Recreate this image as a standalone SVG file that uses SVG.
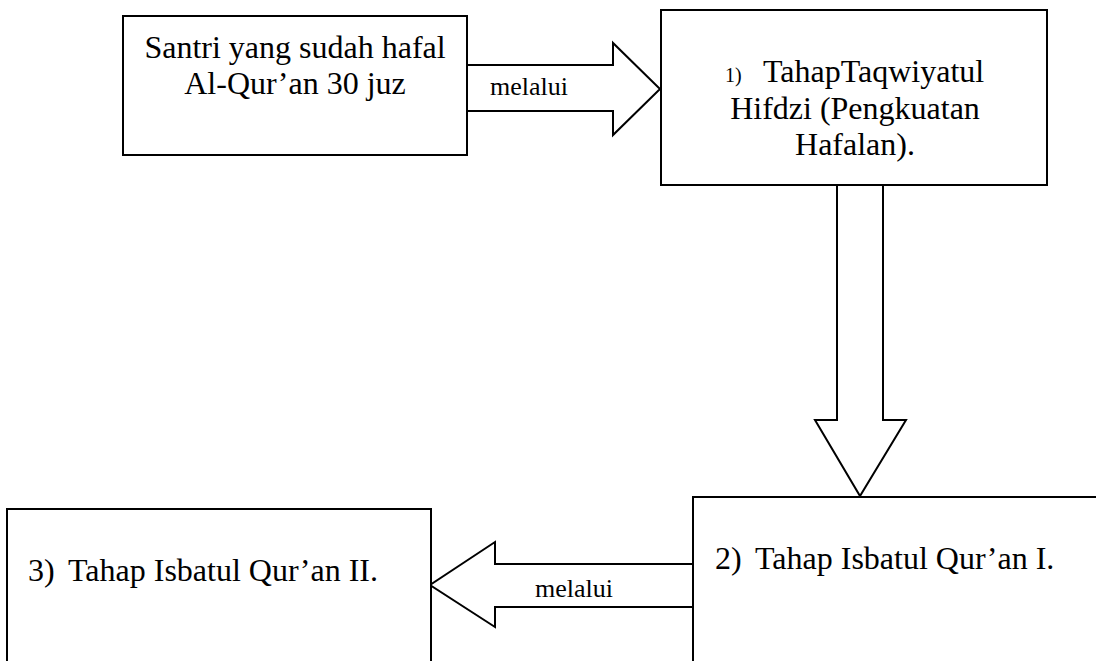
<svg xmlns="http://www.w3.org/2000/svg" width="1096" height="661" viewBox="0 0 1096 661">
<style>
.box{fill:#fff;stroke:#000;stroke-width:2}
.arr{fill:#fff;stroke:#000;stroke-width:2;stroke-linejoin:miter}
.t{font-family:"Liberation Serif","Times New Roman",serif;font-size:32px;fill:#000}
.s{font-family:"Liberation Serif","Times New Roman",serif;font-size:26px;fill:#000}
.n{font-family:"Liberation Serif","Times New Roman",serif;font-size:20px;fill:#000}
</style>
<rect width="1096" height="661" fill="#fff"/>
<g id="connectors">
<polygon class="arr" points="467,65 613,65 613,43 660,89 613,135 613,111 467,111"/>
<polygon class="arr" points="837,185 883,185 883,420 906,420 860,496 815,420 837,420"/>
<polygon class="arr" points="693,564 495,564 495,542 430,585 495,627 495,607 693,607"/>
<text class="s" x="490" y="95">melalui</text>
<text class="s" x="535" y="597">melalui</text>
</g>
<g id="node-santri">
<rect class="box" x="123" y="16" width="344" height="139"/>
<text class="t" x="295" y="58" text-anchor="middle">Santri yang sudah hafal</text>
<text class="t" x="295" y="94" text-anchor="middle">Al-Qur’an 30 juz</text>
</g>
<g id="node-tahap1">
<rect class="box" x="661" y="10" width="386" height="175"/>
<text class="n" x="725" y="82">1)</text>
<text class="t" x="763" y="82">TahapTaqwiyatul</text>
<text class="t" x="855" y="119" text-anchor="middle">Hifdzi (Pengkuatan</text>
<text class="t" x="855" y="155" text-anchor="middle">Hafalan).</text>
</g>
<g id="node-tahap2">
<path class="box" d="M693,670 L693,497 L1100,497"/>
<text class="t" x="715" y="569">2)</text>
<text class="t" x="755" y="569">Tahap Isbatul Qur’an I.</text>
</g>
<g id="node-tahap3">
<path class="box" d="M7,670 L7,509 L431,509 L431,670"/>
<text class="t" x="28" y="581">3)</text>
<text class="t" x="68" y="581">Tahap Isbatul Qur’an II.</text>
</g>
</svg>
